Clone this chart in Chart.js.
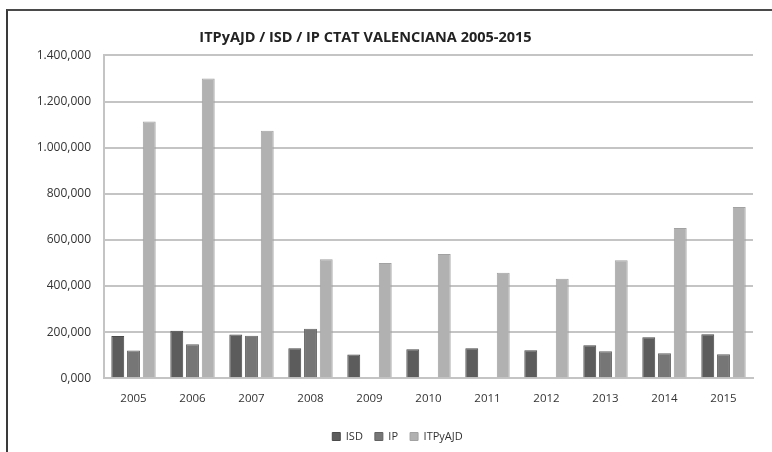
<!DOCTYPE html>
<html>
<head>
<meta charset="utf-8">
<script src="https://cdn.jsdelivr.net/npm/chart.js@4.4.1/dist/chart.umd.min.js"></script>
<style>
  html, body { margin: 0; padding: 0; background: #fff; }
  #wrap { position: relative; width: 772px; height: 452px; overflow: hidden; }
  #frame { position: absolute; left: 6px; top: 9px; width: 800px; height: 460px; border-left: 2px solid #3a3a3a; border-top: 2px solid #4a4a4a; box-sizing: border-box; pointer-events: none; }
  canvas { position: absolute; left: 0; top: 0; }
</style>
</head>
<body>
<div id="wrap">
  <canvas id="bar-graph" width="772" height="452"></canvas>
  <div id="frame"></div>
</div>
<script>
// values in thousands
const years = ["2005", "2006", "2007", "2008", "2009", "2010", "2011", "2012", "2013", "2014", "2015"];
const isd = [183, 206, 189, 130, 103, 126, 130, 121, 143, 178, 191];
const ip = [120, 147, 184, 215, 0, 0, 0, 0, 117, 108, 104];
const itpajd = [1113, 1300, 1073, 516, 500, 539, 457, 431, 512, 651, 742];
const yTickLabels = ["0,000", "200,000", "400,000", "600,000", "800,000", "1.000,000", "1.200,000", "1.400,000"];

const fontFamily = "'Open Sans', 'DejaVu Sans', sans-serif";

const ctx = document.getElementById("bar-graph");

// nudge title / legend sideways like in the original picture
const shiftBlocks = {
  id: "shiftBlocks",
  afterLayout(chart) {
    if (chart.titleBlock) { chart.titleBlock.left -= 11; chart.titleBlock.right -= 11; }
    if (chart.legend) { chart.legend.left += 21; chart.legend.right += 21; }
  },
};

new Chart(ctx, {
  type: "bar",
  data: {
    labels: years,
    datasets: [
      { label: "ISD", data: isd, backgroundColor: "#5c5c5c", borderColor: "#4a4a4a", borderWidth: 1 },
      { label: "IP", data: ip, backgroundColor: "#767676", borderColor: "#626262", borderWidth: 1 },
      { label: "ITPyAJD", data: itpajd, backgroundColor: "#b1b1b1", borderColor: "#a2a2a2", borderWidth: 1 },
    ],
  },
  options: {
    responsive: false,
    animation: false,
    devicePixelRatio: 1,
    categoryPercentage: 0.8,
    barPercentage: 0.82,
    layout: { padding: { left: 0, right: 19, top: 29, bottom: 0 } },
    scales: {
      x: {
        afterFit: function (scale) { scale.height += 7; }, // gap above legend
        grid: { display: false },
        border: { display: true, color: "#c4c4c4", width: 2 },
        ticks: { color: "#333", font: { family: fontFamily, size: 11.5 }, padding: 6, maxRotation: 0 },
      },
      y: {
        min: 0,
        max: 1400,
        afterFit: function (scale) { scale.width = 104; },
        grid: { color: "#c4c4c4", lineWidth: 2, drawTicks: false },
        border: { display: true, color: "#c4c4c4", width: 2 },
        ticks: {
          stepSize: 200,
          padding: 13,
          color: "#333",
          font: { family: fontFamily, size: 12 },
          callback: function (value) { return yTickLabels[value / 200]; },
        },
      },
    },
    plugins: {
      title: {
        display: true,
        text: "ITPyAJD / ISD / IP CTAT VALENCIANA 2005-2015",
        color: "#222",
        font: { family: fontFamily, size: 14.5, weight: "bold" },
        padding: { top: 0, bottom: 9 },
      },
      legend: {
        position: "bottom",
        labels: {
          color: "#333",
          font: { family: fontFamily, size: 11 },
          boxWidth: 8,
          boxHeight: 8,
          padding: 12,
        },
      },
      tooltip: { enabled: false },
    },
  },
  plugins: [shiftBlocks],
});
</script>
</body>
</html>
